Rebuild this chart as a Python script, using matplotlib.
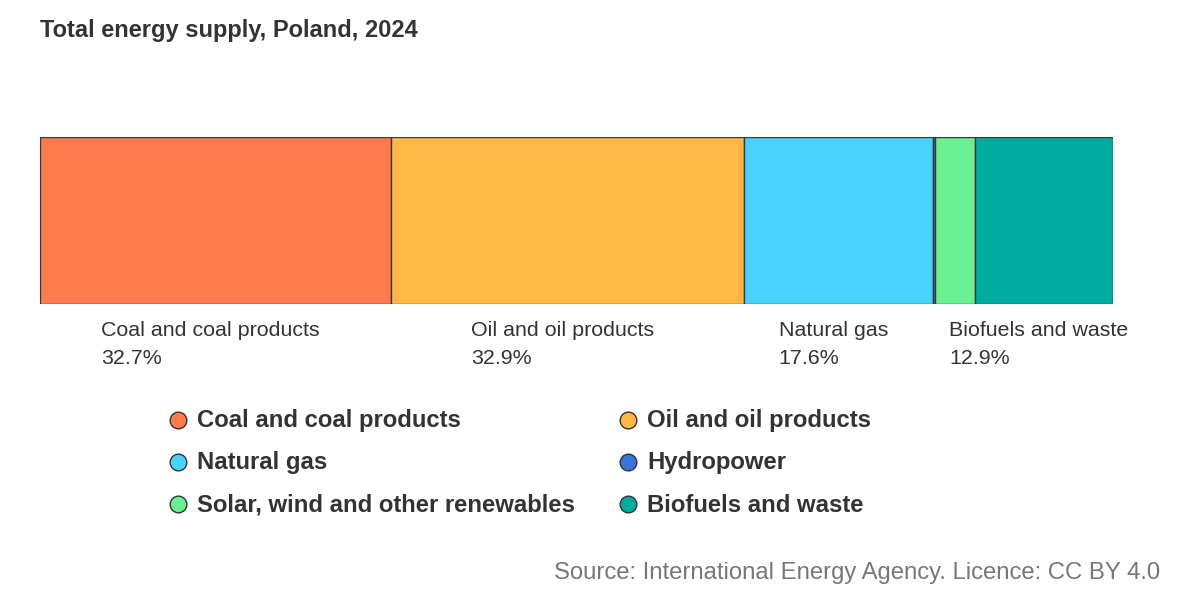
import matplotlib
matplotlib.use("Agg")
import matplotlib.pyplot as plt

categories = ["Coal and coal products", "Oil and oil products", "Natural gas",
              "Hydropower", "Solar, wind and other renewables", "Biofuels and waste"]
shares = [32.7, 32.9, 17.6, 0.2, 3.7, 12.9]
colors = ["#ff7a4d", "#ffb845", "#48d3ff", "#3a73d9", "#69f090", "#00ac9f"]
label_threshold = 5.0

plt.rcParams['font.family'] = ['Liberation Sans', 'DejaVu Sans']

W, H = 1200, 600
fig = plt.figure(figsize=(12, 6), dpi=100)

def px_axes(x0, y0, x1, y1):
    return fig.add_axes([x0 / W, 1 - y1 / H, (x1 - x0) / W, (y1 - y0) / H])

ax = px_axes(40, 137, 1113, 304)
left = 0
for name, val, col in zip(categories, shares, colors):
    ax.barh(0, val, left=left, height=1.0, color=col, edgecolor="#3a3a3a", linewidth=1.0)
    if val >= label_threshold:
        ax.text(left + val / 2 - 0.45, -0.6, f"{name}\n{val:.1f}%", ha="center", va="top",
                multialignment="left", fontsize=15.4, color="#333333", linespacing=1.6)
    left += val
ax.set_xlim(0, sum(shares))
ax.set_ylim(-0.5, 0.5)
ax.axis("off")

fig.text(40 / W, 1 - 31 / H, "Total energy supply, Poland, 2024", fontsize=17,
         fontweight="bold", color="#333333", va="center", ha="left")

# legend
lax = px_axes(0, 0, W, H)
lax.set_xlim(0, W)
lax.set_ylim(H, 0)
lax.axis("off")
col_x = [178, 628]
row_y = [420, 462, 504]
for i, (name, col) in enumerate(zip(categories, colors)):
    x = col_x[i % 2]
    y = row_y[i // 2]
    lax.plot([x], [y], marker="o", markersize=12, markerfacecolor=col,
             markeredgecolor="#333333", markeredgewidth=1.0, linestyle="none")
    lax.text(x + 19, y + 1, name, fontsize=17.2, fontweight="bold", color="#333333",
             va="center", ha="left")

fig.text(1160 / W, 1 - 573 / H, "Source: International Energy Agency. Licence: CC BY 4.0",
         fontsize=17.2, color="#777777", ha="right", va="center")

fig.savefig("out.png", dpi=100, facecolor="white")
